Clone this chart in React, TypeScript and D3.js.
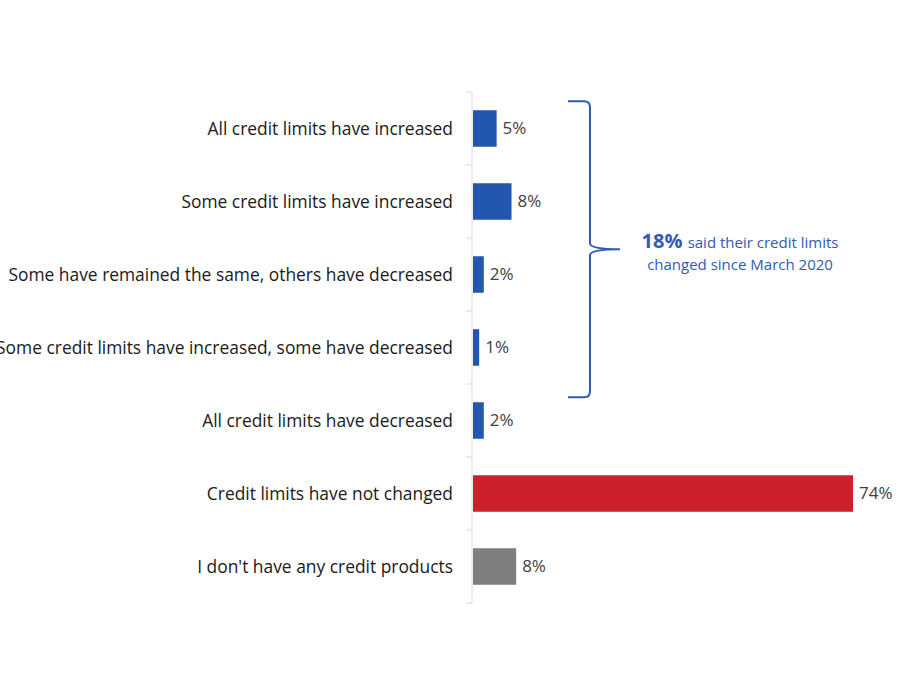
import React, { useEffect, useRef } from 'react';
import * as d3 from 'd3';

const categories = [
  'All credit limits have increased',
  'Some credit limits have increased',
  'Some have remained the same, others have decreased',
  'Some credit limits have increased, some have decreased',
  'All credit limits have decreased',
  'Credit limits have not changed',
  "I don't have any credit products",
];
const values = [4.6, 7.5, 2.1, 1.2, 2.1, 74, 8.4];
const valueLabels = ['5%', '8%', '2%', '1%', '2%', '74%', '8%'];
const barColors = ['#2356AE', '#2356AE', '#2356AE', '#2356AE', '#2356AE', '#CE202B', '#7F7F7F'];
const noteBold = '18%';
const noteLines = ['said their credit limits', 'changed since March 2020'];

const App: React.FC = () => {
  const svgRef = useRef<SVGSVGElement | null>(null);

  useEffect(() => {
    document.body.style.margin = '0';
    if (!svgRef.current) return;
    const svg = d3.select(svgRef.current);
    svg.selectAll('*').remove();

    const height = 675;
    const margin = { top: 92, bottom: 72, left: 472 };
    const font = "'Open Sans', sans-serif";

    const x = d3.scaleLinear().domain([0, 74]).range([margin.left + 1, 853]);
    const y = d3.scaleBand<string>()
      .domain(categories)
      .range([margin.top, height - margin.bottom])
      .paddingInner(0.5)
      .paddingOuter(0.25);

    // category axis
    const step = y.step();
    const axisTop = margin.top;
    const axisBottom = height - margin.bottom;
    const axis = svg.append('g');
    axis.append('line')
      .attr('x1', margin.left).attr('x2', margin.left)
      .attr('y1', axisTop).attr('y2', axisBottom)
      .attr('stroke', '#D9D9D9').attr('stroke-width', 1);
    axis.selectAll('line.tick')
      .data(d3.range(categories.length + 1))
      .join('line')
      .attr('class', 'tick')
      .attr('x1', margin.left - 6).attr('x2', margin.left)
      .attr('y1', i => axisTop + i * step).attr('y2', i => axisTop + i * step)
      .attr('stroke', '#D9D9D9').attr('stroke-width', 1);

    axis.selectAll('text')
      .data(categories)
      .join('text')
      .attr('x', margin.left - 19)
      .attr('y', d => (y(d) as number) + y.bandwidth() / 2)
      .attr('dy', '0.35em')
      .attr('text-anchor', 'end')
      .attr('font-family', font)
      .attr('font-size', '17.4px')
      .attr('fill', '#1a1a1a')
      .text(d => d);

    // bars
    svg.append('g')
      .selectAll('rect')
      .data(categories)
      .join('rect')
      .attr('x', x(0))
      .attr('y', d => y(d) as number)
      .attr('width', (_, i) => x(values[i]) - x(0))
      .attr('height', y.bandwidth())
      .attr('fill', (_, i) => barColors[i]);

    // value labels
    svg.append('g')
      .selectAll('text')
      .data(categories)
      .join('text')
      .attr('x', (_, i) => x(values[i]) + 6)
      .attr('y', d => (y(d) as number) + y.bandwidth() / 2)
      .attr('dy', '0.35em')
      .attr('font-family', font)
      .attr('font-size', '17px')
      .attr('fill', '#404040')
      .text((_, i) => valueLabels[i]);

    // brace around the first four categories
    const top = (y(categories[0]) as number) - 9;
    const bottom = (y(categories[4]) as number) - 5;
    const mid = (top + bottom) / 2;
    const bx = 590;
    const r = 6;
    const brace = d3.path();
    brace.moveTo(bx - 22, top);
    brace.lineTo(bx - r, top);
    brace.quadraticCurveTo(bx, top, bx, top + r);
    brace.lineTo(bx, mid - r);
    brace.quadraticCurveTo(bx, mid, bx + 30, mid);
    brace.moveTo(bx + 30, mid);
    brace.quadraticCurveTo(bx, mid, bx, mid + r);
    brace.lineTo(bx, bottom - r);
    brace.quadraticCurveTo(bx, bottom, bx - r, bottom);
    brace.lineTo(bx - 22, bottom);
    svg.append('path')
      .attr('d', brace.toString())
      .attr('fill', 'none')
      .attr('stroke', '#2F5AB5')
      .attr('stroke-width', 2);

    const note = svg.append('text')
      .attr('x', 740)
      .attr('y', mid - 1)
      .attr('text-anchor', 'middle')
      .attr('font-family', font)
      .attr('fill', '#2F5AB5');
    note.append('tspan')
      .attr('font-size', '20px')
      .attr('font-weight', 'bold')
      .text(noteBold + ' ');
    note.append('tspan')
      .attr('font-size', '15px')
      .text(noteLines[0]);
    svg.append('text')
      .attr('x', 740)
      .attr('y', mid + 21)
      .attr('text-anchor', 'middle')
      .attr('font-family', font)
      .attr('font-size', '15px')
      .attr('fill', '#2F5AB5')
      .text(noteLines[1]);
  }, []);

  return <svg ref={svgRef} width={900} height={675} style={{ display: 'block' }}></svg>;
};

export default App;
